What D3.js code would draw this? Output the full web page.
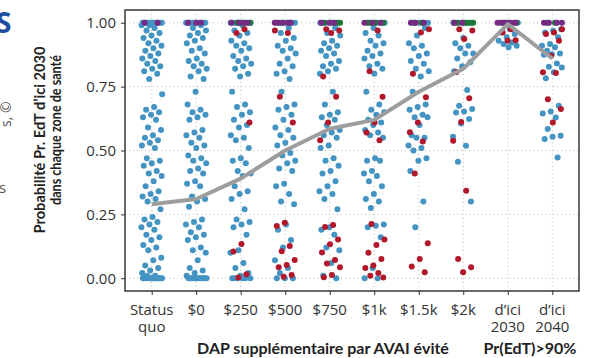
<!DOCTYPE html>
<html>
<head>
<meta charset="utf-8">
<script src="https://cdn.jsdelivr.net/npm/d3@7/dist/d3.min.js"></script>
<style>
  body { margin: 0; background: #fff; }
  svg { display: block; }
</style>
</head>
<body>
<div id="chart"></div>
<script>
// categories and tick labels (x axis)
const categories = ["sq", "0", "250", "500", "750", "1k", "1.5k", "2k", "2030", "2040"];
const tickLabels = [["Status", "quo"], ["$0"], ["$250"], ["$500"], ["$750"], ["$1k"], ["$1.5k"], ["$2k"], ["d’ici", "2030"], ["d’ici", "2040"]];
const yTicks = [0, 0.25, 0.5, 0.75, 1];

// summary line through the columns
const lineValues = [0.29, 0.31, 0.39, 0.50, 0.585, 0.62, 0.73, 0.82, 0.995, 0.86];

// per-column point values, one array per colour group
const bluePoints = [
  [1,1,1,1,1,1,1,1,1,1,1,1,1,1,0.99,0.99,0.98,0.97,0.96,0.95,0.94,0.93,0.92,0.91,0.90,0.89,0.88,0.87,0.86,0.85,0.84,0.83,0.82,0.81,0.80,0.78,
   0.72,0.67,0.66,0.65,0.64,0.63,0.62,0.59,0.58,0.56,0.55,0.54,0.53,0.52,0.51,
   0.47,0.46,0.45,0.44,0.42,0.41,0.40,0.38,0.36,0.34,0.33,0.32,0.31,0.30,0.27,
   0.24,0.23,0.22,0.21,0.20,0.19,0.17,0.16,0.15,0.13,0.12,0.11,0.08,0.07,0.05,0.04,0.03,0.02,0.01,0.01,0,0,0,0,0,0,0,0,0,0,0,0],
  [1,1,1,1,1,1,1,1,1,1,1,1,1,1,0.99,0.98,0.97,0.96,0.95,0.94,0.93,0.92,0.90,0.89,0.88,0.86,0.85,0.84,0.83,0.82,0.81,0.79,0.78,
   0.73,0.68,0.66,0.65,0.64,0.63,0.62,0.58,0.57,0.56,0.55,0.53,0.52,0.51,
   0.48,0.47,0.46,0.45,0.43,0.42,0.41,0.38,0.37,0.36,0.32,0.31,0.30,0.28,
   0.23,0.22,0.21,0.20,0.18,0.17,0.16,0.15,0.12,0.11,0.10,0.07,0.04,0.03,0.02,0.01,0,0,0,0,0,0,0,0,0,0,0,0],
  [1,1,1,1,1,1,1,1,1,1,0.99,0.97,0.96,0.95,0.93,0.92,0.91,0.90,0.89,0.87,0.86,0.85,0.84,0.83,0.82,0.80,0.79,
   0.73,0.68,0.67,0.65,0.64,0.62,0.60,0.59,0.56,0.55,0.54,0.51,
   0.47,0.46,0.45,0.42,0.41,0.40,0.36,0.34,0.33,0.31,0.27,
   0.23,0.22,0.21,0.20,0.17,0.11,0.10,0.06,0.04,0.02,0.01,0,0,0,0,0,0],
  [1,1,1,1,1,1,1,1,0.98,0.96,0.94,0.93,0.91,0.90,0.89,0.88,0.86,0.84,0.83,0.81,0.80,0.78,
   0.73,0.68,0.67,0.66,0.64,0.62,0.59,0.58,0.56,0.55,0.53,0.52,
   0.49,0.48,0.46,0.45,0.43,0.42,0.37,0.36,0.33,0.30,0.29,
   0.21,0.19,0.15,0.12,0.07,0.04,0.02,0,0,0],
  [1,1,1,1,1,1,0.98,0.96,0.95,0.93,0.92,0.91,0.90,0.89,0.88,0.87,0.85,0.84,0.83,0.82,0.81,0.80,
   0.73,0.68,0.65,0.64,0.63,0.62,0.60,0.58,0.57,0.56,0.55,0.52,0.51,
   0.47,0.46,0.44,0.42,0.41,0.38,0.36,0.34,0.33,0.31,0.27,
   0.20,0.19,0.17,0.12,0.11,0.06,0.01,0],
  [1,1,1,1,1,0.98,0.96,0.95,0.93,0.92,0.91,0.89,0.88,0.87,0.86,0.84,0.83,0.82,0.80,
   0.73,0.68,0.66,0.65,0.64,0.62,0.61,0.60,0.58,0.57,0.56,0.55,
   0.47,0.46,0.46,0.42,0.41,0.40,0.38,0.36,0.33,0.31,0.30,0.275,
   0.21,0.205,0.20,0.16,0.04,0,0],
  [1,1,1,1,1,0.98,0.95,0.92,0.91,0.90,0.88,0.87,0.85,0.84,0.82,0.81,0.79,
   0.73,0.68,0.67,0.66,0.64,0.63,0.63,0.60,0.56,0.55,0.55,0.52,0.51,
   0.50,0.47,0.46,0.42,0.30,0.20],
  [1,1,1,1,0.94,0.92,0.91,0.90,0.88,0.88,0.86,0.845,0.83,0.81,
   0.737,0.675,0.662,0.653,0.649,0.623,0.606,0.554,0.519,
   0.456,0.30],
  [1,1,0.975,0.962,0.956,0.943,0.93,0.923,0.917,0.91,0.904],
  [1,1,0.975,0.969,0.962,0.943,0.917,0.91,0.904,0.89,0.88,0.877,0.875,0.841,0.828,0.825,0.806,0.783,
   0.675,0.653,0.645,0.629,0.584,0.558,0.554,0.545,0.473]
];
const redPoints = [
  [],
  [],
  [0.975, 0.96, 0.61, 0.134, 0.105, 0.016, 0.003],
  [0.97, 0.96, 0.71, 0.61, 0.217, 0.204, 0.126, 0.106, 0.071, 0.052, 0.043, 0.013, 0.006],
  [0.975, 0.97, 0.96, 0.79, 0.71, 0.61, 0.54, 0.208, 0.201, 0.152, 0.133, 0.101, 0.071, 0.058, 0.043, 0.013, 0.004],
  [0.97, 0.81, 0.71, 0.61, 0.57, 0.54, 0.212, 0.152, 0.13, 0.10, 0.075, 0.05, 0.04, 0.02, 0.01, 0.003],
  [0.975, 0.962, 0.80, 0.708, 0.61, 0.571, 0.535, 0.41, 0.137, 0.075, 0.046, 0.023],
  [0.975, 0.97, 0.936, 0.806, 0.705, 0.612, 0.538, 0.342, 0.075, 0.043, 0.023],
  [0.975, 0.962, 0.932, 0.93],
  [0.975, 0.962, 0.956, 0.93, 0.871, 0.806, 0.803, 0.701, 0.662, 0.61]
];
const greenPoints = [
  [], [], [1,1,1], [1,1], [1,1,1,1], [1,1,1,1,1], [1,1], [1,1,1,1,1,1,1], [1,1,1,1], [1,1]
];
const purplePoints = [
  [1,1], [1,1,1], [1,1,1,1], [1,1,1,1,1], [1,1,1], [1,1,1], [1,1,1], [1,1], [1,1,1,1,1,1], [1,1,1,1]
];

const width = 604, height = 358;
const panel = {left: 125, right: 579, top: 10, bottom: 291};

const svg = d3.select("#chart").append("svg")
  .attr("width", width)
  .attr("height", height)
  .style("font-family", "'Open Sans', 'Noto Sans', sans-serif");

const x = d3.scalePoint()
  .domain(categories)
  .range([panel.left, panel.right])
  .padding(0.6);

const y = d3.scaleLinear()
  .domain([-0.05, 1.05])
  .range([panel.bottom, panel.top]);

// dotted grid
const grid = svg.append("g");
grid.selectAll("line.h").data(yTicks).enter().append("line")
  .attr("x1", panel.left).attr("x2", panel.right)
  .attr("y1", d => y(d)).attr("y2", d => y(d))
  .attr("stroke", "#bcbcbc").attr("stroke-width", 1).attr("stroke-dasharray", "1,3");
grid.selectAll("line.v").data(categories).enter().append("line")
  .attr("y1", panel.top).attr("y2", panel.bottom)
  .attr("x1", d => x(d)).attr("x2", d => x(d))
  .attr("stroke", "#bcbcbc").attr("stroke-width", 1).attr("stroke-dasharray", "1,3");

// deterministic horizontal spread for the strip points
const spread = 10.5;
function jitter(i, seed) {
  const f = ((i + 1) * 0.6180339887 + seed) % 1;
  return (f * 2 - 1) * spread;
}

function drawGroup(groups, color, seed) {
  const pts = [];
  groups.forEach((vals, ci) => {
    vals.forEach((v, i) => pts.push({cat: categories[ci], v: v, dx: jitter(i + ci * 7, seed)}));
  });
  svg.append("g").selectAll("circle").data(pts).enter().append("circle")
    .attr("cx", d => x(d.cat) + d.dx)
    .attr("cy", d => y(d.v))
    .attr("r", 3)
    .attr("fill", color);
}

drawGroup(bluePoints, "#4393c3", 0.13);
drawGroup(redPoints, "#b2182b", 0.41);
drawGroup(greenPoints, "#1b7837", 0.07);
drawGroup(purplePoints, "#762a83", 0.55);

// summary line
svg.append("path")
  .datum(lineValues)
  .attr("d", d3.line().x((d, i) => x(categories[i])).y(d => y(d)))
  .attr("fill", "none")
  .attr("stroke", "#9d9d9d")
  .attr("stroke-width", 4)
  .attr("stroke-linejoin", "round");

// panel border
svg.append("rect")
  .attr("x", panel.left).attr("y", panel.top)
  .attr("width", panel.right - panel.left).attr("height", panel.bottom - panel.top)
  .attr("fill", "none").attr("stroke", "#1a1a1a").attr("stroke-width", 1.3);

// y axis
const yAxis = svg.append("g")
  .attr("transform", "translate(" + panel.left + ",0)")
  .call(d3.axisLeft(y).tickValues(yTicks).tickFormat(d3.format(".2f")).tickSize(4).tickPadding(5));
yAxis.select(".domain").remove();
yAxis.selectAll("line").attr("stroke", "#333");
yAxis.selectAll("text").attr("fill", "#333").style("font-size", "15px").style("font-family", "'Open Sans', sans-serif");

// x axis
const xAxis = svg.append("g")
  .attr("transform", "translate(0," + panel.bottom + ")")
  .call(d3.axisBottom(x).tickSize(4).tickFormat(""));
xAxis.select(".domain").remove();
xAxis.selectAll("line").attr("stroke", "#333");

// tick labels, one text per line
const xl = svg.append("g");
categories.forEach((c, i) => {
  tickLabels[i].forEach((line, j) => {
    xl.append("text")
      .attr("x", x(c)).attr("y", 315 + j * 17)
      .attr("text-anchor", "middle")
      .attr("fill", "#333")
      .style("font-size", "15px")
      .text(line);
  });
});

// axis titles
function fitText(sel, len) {
  const n = sel.node().getComputedTextLength();
  if (n > len) sel.attr("textLength", len).attr("lengthAdjust", "spacingAndGlyphs");
}
const titleFont = "Lato, 'Open Sans', sans-serif";
const t1 = svg.append("text")
  .attr("transform", "translate(45,140) rotate(-90)")
  .attr("text-anchor", "middle").attr("fill", "#222")
  .style("font-family", titleFont)
  .style("font-size", "16px").style("font-weight", 700)
  .text("Probabilité Pr. EdT d’ici 2030");
fitText(t1, 187);
const t2 = svg.append("text")
  .attr("transform", "translate(61,130) rotate(-90)")
  .attr("text-anchor", "middle").attr("fill", "#222")
  .style("font-family", titleFont)
  .style("font-size", "16px").style("font-weight", 700)
  .text("dans chaque zone de santé");
fitText(t2, 150);
const t3 = svg.append("text")
  .attr("x", 323).attr("y", 354)
  .attr("text-anchor", "middle").attr("fill", "#222")
  .style("font-family", titleFont)
  .style("font-size", "16px").style("font-weight", 700)
  .text("DAP supplémentaire par AVAI évité");
fitText(t3, 260);
const t4 = svg.append("text")
  .attr("x", 530).attr("y", 354)
  .attr("text-anchor", "middle").attr("fill", "#222")
  .style("font-family", titleFont)
  .style("font-size", "16px").style("font-weight", 700)
  .text("Pr(EdT)>90%");
fitText(t4, 100);

// cut-off fragments of the neighbouring panel on the left edge
svg.append("text")
  .attr("x", -4).attr("y", 33)
  .attr("fill", "#1d4f9e")
  .style("font-size", "28px").style("font-weight", 700)
  .text("S");
svg.append("text")
  .attr("transform", "translate(11,127) rotate(-90)")
  .attr("fill", "#555").style("font-size", "14px")
  .text("s, ©");
svg.append("text")
  .attr("x", -1).attr("y", 193)
  .attr("fill", "#555").style("font-size", "15px")
  .text("s");
</script>
</body>
</html>
